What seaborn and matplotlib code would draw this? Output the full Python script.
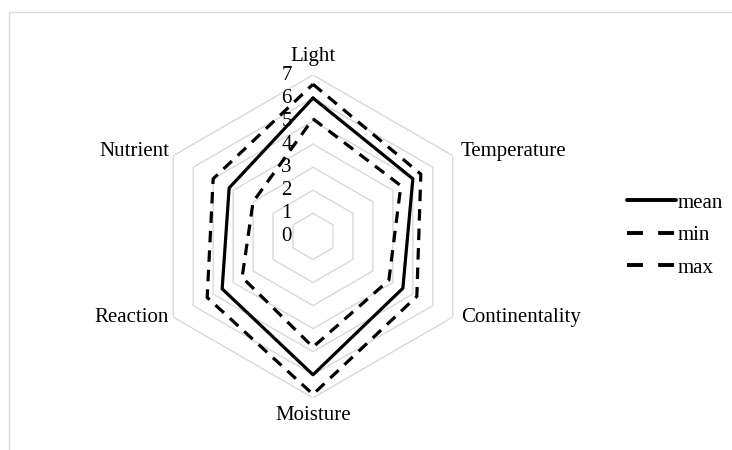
import numpy as np
import pandas as pd
import matplotlib
matplotlib.use("Agg")
import matplotlib.pyplot as plt
from matplotlib.lines import Line2D
from matplotlib.patches import Rectangle
import seaborn as sns

# ---------- DATA ----------
categories = ["Light", "Temperature", "Continentality", "Moisture", "Reaction", "Nutrient"]
mean_vals = [6.0, 5.0, 4.5, 6.0, 4.55, 4.2]
min_vals = [5.1, 4.4, 3.8, 4.8, 3.55, 3.0]
max_vals = [6.6, 5.4, 5.2, 6.85, 5.3, 5.0]
levels = [0, 1, 2, 3, 4, 5, 6, 7]

# ---------- STYLE ----------
sns.set_theme(style="white")
plt.rcParams["font.family"] = ["Liberation Serif", "DejaVu Serif"]
plt.rcParams["text.color"] = "black"
FS = 15

n = len(categories)
theta = np.linspace(0, 2 * np.pi, n, endpoint=False)
theta_closed = np.append(theta, 2 * np.pi)

rows = []
for stat, vals in [("mean", mean_vals), ("min", min_vals), ("max", max_vals)]:
    closed = list(vals) + [vals[0]]
    for t, v in zip(theta_closed, closed):
        rows.append({"theta": t, "value": v, "stat": stat})
df = pd.DataFrame(rows)

fig = plt.figure(figsize=(7.32, 4.5), dpi=100)
ax = fig.add_axes([0.2071, 0.116, 0.441, 0.7173], projection="polar")
ax.set_theta_offset(np.pi / 2)
ax.set_theta_direction(-1)

# hexagon grid
for lv in levels[1:]:
    ax.plot(theta_closed, [lv] * (n + 1), color="#d9d9d9", lw=1.0, zorder=1)

sns.lineplot(
    data=df, x="theta", y="value", hue="stat", style="stat",
    palette={"mean": "black", "min": "black", "max": "black"},
    dashes={"mean": "", "min": (3.6, 2.5), "max": (3.6, 2.5)},
    linewidth=2.3, legend=False, ax=ax, zorder=3,
)

ax.set_ylim(0, levels[-1])
ax.grid(False)
ax.spines["polar"].set_visible(False)
ax.set_xticks([])
ax.set_yticks([])
ax.set_xlabel("")
ax.set_ylabel("")

# radial value labels
for lv in levels:
    ax.annotate(str(lv), xy=(0, lv), xytext=(-19, 0), textcoords="offset points",
                ha="center", va="center", fontsize=FS, zorder=2)

# category labels
offsets = [(0, 13, "center"), (6, 3, "left"), (6, 0, "left"),
           (0, -12.5, "center"), (-3, 0, "right"), (-3, 3, "right")]
for t, name, (dx, dy, ha) in zip(theta, categories, offsets):
    ax.annotate(name, xy=(t, levels[-1]), xytext=(dx, dy), textcoords="offset points",
                ha=ha, va="center", fontsize=FS, annotation_clip=False)

# legend
handles = [
    Line2D([], [], color="black", lw=2.8),
    Line2D([], [], color="black", lw=2.8, dashes=(4.1, 3.9)),
    Line2D([], [], color="black", lw=2.8, dashes=(4.1, 3.9)),
]
fig.legend(handles, ["mean", "min", "max"], loc="center left",
           bbox_to_anchor=(0.856, 0.477), frameon=False, fontsize=FS,
           handlelength=2.35, handletextpad=0.08, labelspacing=0.62,
           borderpad=0, borderaxespad=0)

# chart area border
fig.patches.append(Rectangle((9 / 732, -0.01), 1.0, 0.983, transform=fig.transFigure,
                             fill=False, edgecolor="#d9d9d9", lw=1.0))

fig.savefig("out.png", dpi=100)
